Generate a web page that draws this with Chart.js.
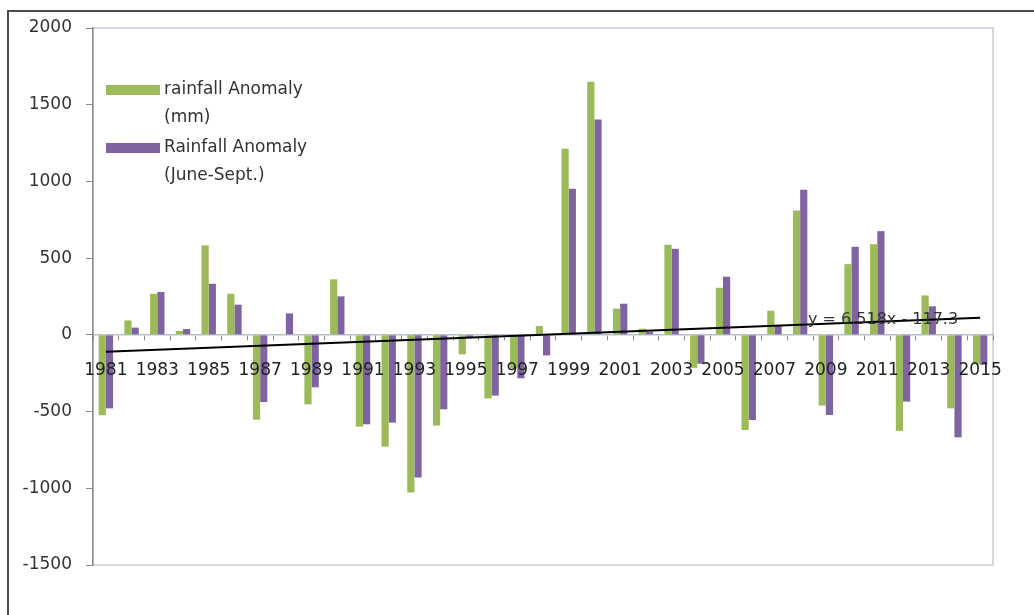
<!DOCTYPE html>
<html>
<head>
<meta charset="utf-8">
<script src="https://cdn.jsdelivr.net/npm/chart.js@4.4.1/dist/chart.umd.min.js"></script>
<style>
  html, body { margin: 0; padding: 0; background: #ffffff; }
  #wrap { width: 1034px; height: 615px; position: relative; }
</style>
</head>
<body>
<div id="wrap"><canvas id="c" width="1034" height="615"></canvas></div>
<script>
// Years on the category axis
const years = ['1981','1982','1983','1984','1985','1986','1987','1988','1989','1990',
               '1991','1992','1993','1994','1995','1996','1997','1998','1999','2000',
               '2001','2002','2003','2004','2005','2006','2007','2008','2009','2010',
               '2011','2012','2013','2014','2015'];

// Annual rainfall anomaly (mm)
const annualAnomaly = [-524, 94, 268, 25, 583, 268, -553, 5, -453, 362,
                       -598, -729, -1028, -590, -127, -414, -220, 57, 1213, 1649,
                       171, 40, 587, -215, 307, -620, 157, 811, -461, 461,
                       591, -626, 257, -479, -192];

// Monsoon-season (June-Sept.) rainfall anomaly (mm)
const monsoonAnomaly = [-479, 47, 279, 38, 333, 197, -438, 140, -342, 251,
                        -583, -572, -930, -485, -15, -396, -283, -134, 952, 1404,
                        203, 20, 561, -188, 379, -555, 57, 946, -522, 574,
                        676, -435, 186, -668, -195];

// Labelled year ticks and value ticks
const xTickLabels = ['1981','1983','1985','1987','1989','1991','1993','1995','1997',
                     '1999','2001','2003','2005','2007','2009','2011','2013','2015'];
const yTickValues = [-1500, -1000, -500, 0, 500, 1000, 1500, 2000];

// Linear trend: y = 6.518x - 117.3 (x = 1 for the first year)
const trendSlope = 6.518;
const trendIntercept = -117.3;
const trendLabel = 'y = 6.518x - 117.3';

const trendData = years.map((_, i) =>
  (i === 0 || i === years.length - 1) ? trendSlope * (i + 1) + trendIntercept : null);

const FONT = 'DejaVu Sans';
const GREEN = '#9bbb59';
const PURPLE = '#8064a2';

const decorPlugin = {
  id: 'decor',
  beforeDraw(chart) {
    const ctx = chart.ctx;
    ctx.save();
    ctx.fillStyle = '#ffffff';
    ctx.fillRect(0, 0, chart.width, chart.height);
    // outer frame (top and left edges)
    ctx.strokeStyle = '#4d4d4d';
    ctx.lineWidth = 2;
    ctx.beginPath();
    ctx.moveTo(1034, 11);
    ctx.lineTo(8, 11);
    ctx.lineTo(8, 615);
    ctx.stroke();
    // plot area outline
    const a = chart.chartArea;
    ctx.strokeStyle = '#c4ccd6';
    ctx.lineWidth = 1.5;
    ctx.strokeRect(a.left, a.top, a.right - a.left, a.bottom - a.top);
    ctx.restore();
  },
  afterDatasetsDraw(chart) {
    const ctx = chart.ctx;
    ctx.save();
    ctx.textBaseline = 'middle';
    ctx.textAlign = 'left';
    ctx.fillStyle = '#333333';
    // trend equation
    ctx.font = '16px "' + FONT + '"';
    ctx.fillText(trendLabel, 808, 320);
    // legend
    const items = [
      { color: GREEN, lines: ['rainfall Anomaly', '(mm)'], y: 90 },
      { color: PURPLE, lines: ['Rainfall Anomaly', '(June-Sept.)'], y: 148 }
    ];
    ctx.font = '17px "' + FONT + '"';
    items.forEach(it => {
      ctx.fillStyle = it.color;
      ctx.fillRect(106, it.y - 5, 54, 10);
      ctx.fillStyle = '#333333';
      it.lines.forEach((t, k) => ctx.fillText(t, 164, it.y + k * 28));
    });
    ctx.restore();
  }
};

new Chart(document.getElementById('c'), {
  type: 'bar',
  data: {
    labels: years,
    datasets: [
      {
        label: 'rainfall Anomaly (mm)',
        data: annualAnomaly,
        backgroundColor: GREEN,
        categoryPercentage: 0.56,
        barPercentage: 1.0,
        order: 2
      },
      {
        label: 'Rainfall Anomaly (June-Sept.)',
        data: monsoonAnomaly,
        backgroundColor: PURPLE,
        categoryPercentage: 0.56,
        barPercentage: 1.0,
        order: 2
      },
      {
        type: 'line',
        label: 'Linear trend',
        data: trendData,
        borderColor: '#000000',
        borderWidth: 2,
        pointRadius: 0,
        spanGaps: true,
        order: 1
      }
    ]
  },
  options: {
    responsive: false,
    animation: false,
    layout: { padding: { left: 0, top: 28, right: 41, bottom: 50 } },
    plugins: { legend: { display: false }, tooltip: { enabled: false } },
    scales: {
      x: {
        position: { y: 0 },
        offset: true,
        grid: { offset: true, drawOnChartArea: false, drawTicks: true, tickLength: 5, color: '#8c8c8c' },
        border: { color: '#b8c1cb', width: 1.5 },
        ticks: {
          autoSkip: false,
          maxRotation: 0,
          minRotation: 0,
          padding: 21,
          z: 1,
          color: '#222222',
          font: { family: FONT, size: 17 },
          callback: function (value) {
            const lab = this.getLabelForValue(value);
            return xTickLabels.includes(lab) ? lab : '';
          }
        },
        afterFit: s => { s.height = 0; }
      },
      y: {
        min: -1500,
        max: 2000,
        afterBuildTicks: s => { s.ticks = yTickValues.map(v => ({ value: v })); },
        grid: { drawOnChartArea: false, drawTicks: true, tickLength: 7, color: '#8c8c8c' },
        border: { color: '#8c8c8c', width: 1.5 },
        ticks: {
          padding: 14,
          color: '#333333',
          font: { family: FONT, size: 17 },
          callback: v => String(v)
        },
        afterFit: s => { s.width = 93; }
      }
    }
  },
  plugins: [decorPlugin]
});
</script>
</body>
</html>
